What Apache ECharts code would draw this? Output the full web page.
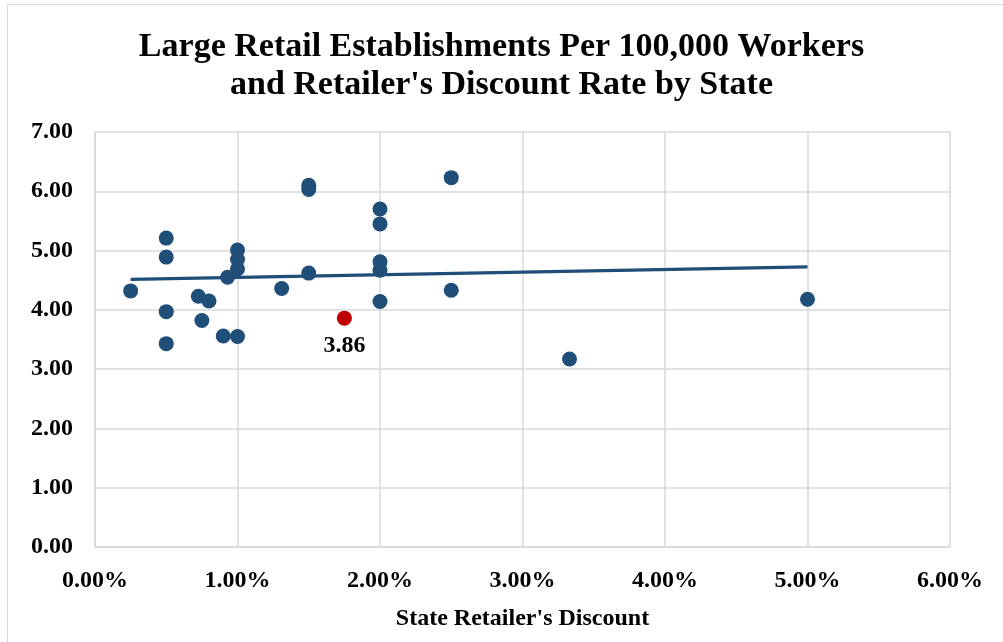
<!DOCTYPE html>
<html>
<head>
<meta charset="utf-8">
<script src="https://cdn.jsdelivr.net/npm/echarts@6/dist/echarts.min.js"></script>
<style>
html,body{margin:0;padding:0;background:#fff;}
#frame{position:absolute;left:7px;top:4px;width:1010px;height:650px;border:1.5px solid #d9d9d9;box-sizing:border-box;}
#chart{position:absolute;left:0;top:0;width:1003px;height:642px;}
</style>
</head>
<body>
<div id="frame"></div>
<div id="chart"></div>
<script>
// State retailer's discount (percent) and large retail establishments per 100,000 workers
const discountPct = [0.25, 0.5, 0.5, 0.5, 0.5, 0.725, 0.8, 0.75, 0.9, 1.0, 0.93, 1.0, 1.0, 1.0, 1.31, 1.5, 1.5, 1.5, 2.0, 2.0, 2.0, 2.0, 2.0, 2.5, 2.5, 3.33, 5.0];
const establishments = [4.32, 5.21, 4.89, 3.97, 3.43, 4.23, 4.15, 3.82, 3.56, 3.55, 4.55, 5.01, 4.85, 4.69, 4.36, 6.10, 6.03, 4.62, 5.70, 5.45, 4.81, 4.67, 4.14, 6.23, 4.33, 3.17, 4.18];
const highlightX = [1.75];
const highlightY = [3.86];
const highlightLabel = ['3.86'];
const xTicks = ['0.00%', '1.00%', '2.00%', '3.00%', '4.00%', '5.00%', '6.00%'];
const yTicks = ['0.00', '1.00', '2.00', '3.00', '4.00', '5.00', '6.00', '7.00'];

const allX = discountPct.concat(highlightX);
const allY = establishments.concat(highlightY);
const n = allX.length;
const mx = allX.reduce((a, b) => a + b, 0) / n;
const my = allY.reduce((a, b) => a + b, 0) / n;
let sxy = 0, sxx = 0;
for (let i = 0; i < n; i++) { sxy += (allX[i] - mx) * (allY[i] - my); sxx += (allX[i] - mx) ** 2; }
const slope = sxy / sxx, intercept = my - slope * mx;
const xMin = Math.min(...allX), xMax = Math.max(...allX);
const trend = [[xMin, intercept + slope * xMin], [xMax, intercept + slope * xMax]];

const FONT = '"Liberation Serif", serif';
const chart = echarts.init(document.getElementById('chart'));
chart.setOption({
  animation: false,
  title: {
    text: 'Large Retail Establishments Per 100,000 Workers\nand Retailer\'s Discount Rate by State',
    left: 'center', top: 23,
    textStyle: { fontFamily: FONT, fontWeight: 'bold', fontSize: 34, color: '#000', lineHeight: 38 }
  },
  grid: { left: 95, right: 53, top: 132, bottom: 95, containLabel: false },
  xAxis: {
    type: 'value', min: 0, max: 6, interval: 1,
    name: 'State Retailer\'s Discount', nameLocation: 'middle', nameGap: 60,
    nameTextStyle: { fontFamily: FONT, fontWeight: 'bold', fontSize: 24, color: '#000' },
    axisLine: { show: true, lineStyle: { color: '#d9d9d9', width: 1.5 } },
    axisTick: { show: false },
    splitLine: { show: true, lineStyle: { color: '#d9d9d9', width: 1.5 } },
    axisLabel: { fontFamily: FONT, fontWeight: 'bold', fontSize: 24, color: '#000', margin: 22,
      formatter: v => xTicks[Math.round(v)] }
  },
  yAxis: {
    type: 'value', min: 0, max: 7, interval: 1,
    axisLine: { show: true, lineStyle: { color: '#d9d9d9', width: 1.5 } },
    axisTick: { show: false },
    splitLine: { show: true, lineStyle: { color: '#d9d9d9', width: 1.5 } },
    axisLabel: { fontFamily: FONT, fontWeight: 'bold', fontSize: 24, color: '#000', margin: 22,
      formatter: v => yTicks[Math.round(v)] }
  },
  series: [
    {
      type: 'line', data: trend, symbol: 'none', silent: true,
      lineStyle: { color: '#1f4e79', width: 3.25 }, z: 1
    },
    {
      type: 'scatter', symbolSize: 15,
      data: discountPct.map((x, i) => [x, establishments[i]]),
      itemStyle: { color: '#1f4e79', opacity: 1 }, z: 2
    },
    {
      type: 'scatter', symbolSize: 15,
      data: highlightX.map((x, i) => [x, highlightY[i]]),
      itemStyle: { color: '#c00000', opacity: 1 }, z: 3,
      label: { show: true, position: 'bottom', distance: 8, color: '#000',
        fontFamily: FONT, fontWeight: 'bold', fontSize: 24,
        formatter: p => highlightLabel[p.dataIndex] }
    }
  ]
});
</script>
</body>
</html>
